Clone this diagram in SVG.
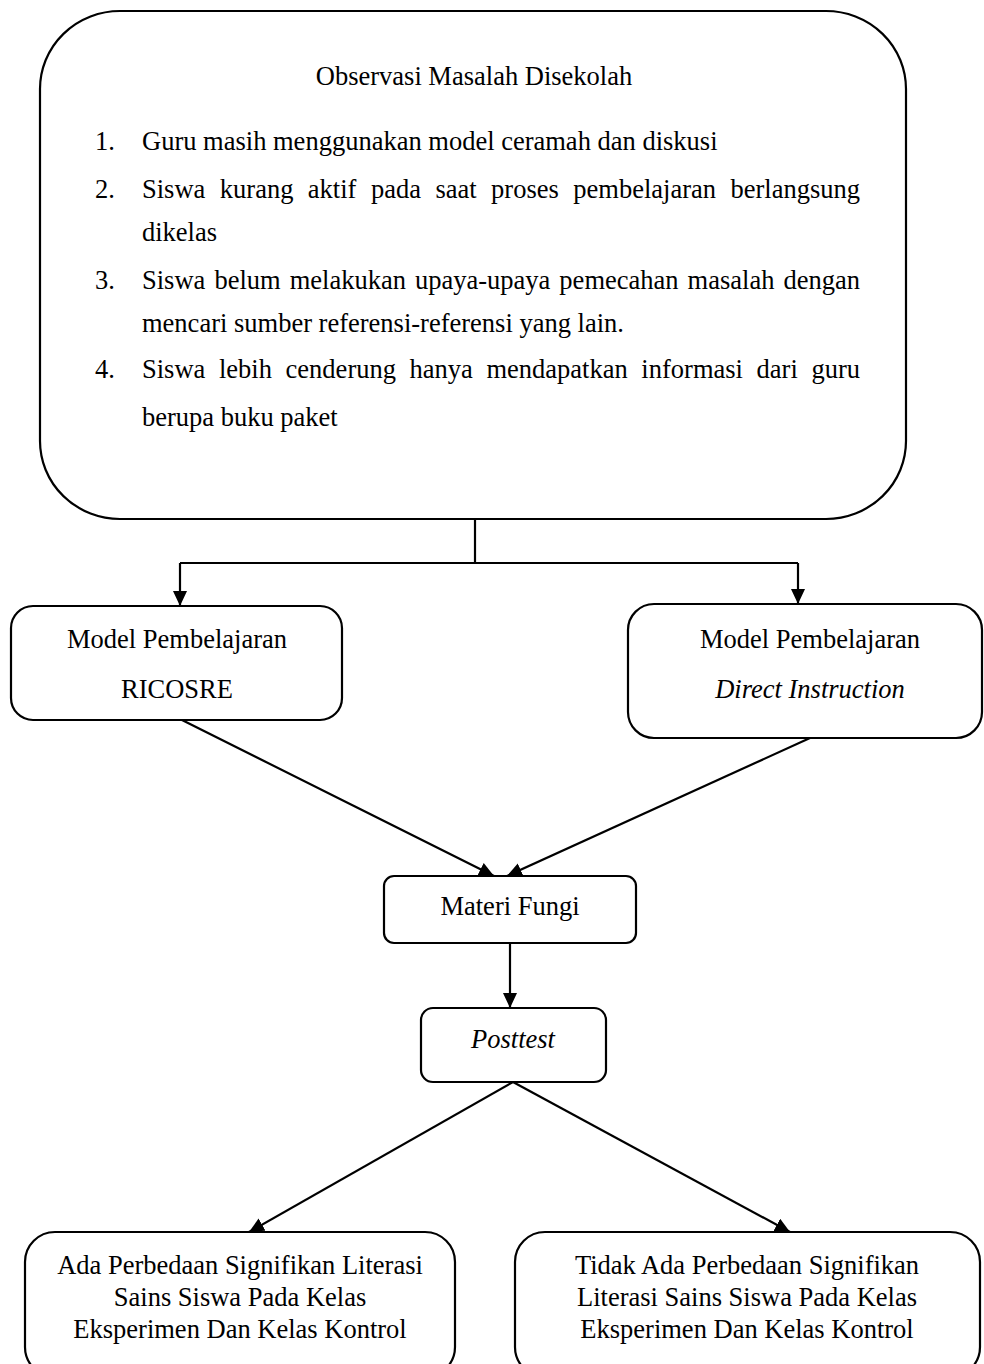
<svg xmlns="http://www.w3.org/2000/svg" width="984" height="1364" viewBox="0 0 984 1364">
<style>
.box{fill:#fff;stroke:#000;stroke-width:2.2}
.t{font-family:"Liberation Serif","Times New Roman",serif;font-size:26.5px;fill:#000}
.c{text-anchor:middle}
.i{font-style:italic}
.ln{stroke:#000;stroke-width:2.2;fill:none}
</style>
<defs>
<marker id="ah" markerUnits="userSpaceOnUse" markerWidth="16" markerHeight="16" refX="15" refY="7" orient="auto">
<path d="M0,0 L15,7 L0,14 z" fill="#000"/>
</marker>
</defs>
<rect width="984" height="1364" fill="#fff"/>
<g id="connectors">
<path class="ln" d="M475,519 V563"/>
<path class="ln" d="M180,563 H798"/>
<path class="ln" d="M180,563 V606" marker-end="url(#ah)"/>
<path class="ln" d="M798,563 V604" marker-end="url(#ah)"/>
<path class="ln" d="M182,720 L494,876" marker-end="url(#ah)"/>
<path class="ln" d="M810,738 L507,876" marker-end="url(#ah)"/>
<path class="ln" d="M510,943 V1008" marker-end="url(#ah)"/>
<path class="ln" d="M513,1082 L249,1232" marker-end="url(#ah)"/>
<path class="ln" d="M513,1082 L790,1232" marker-end="url(#ah)"/>
</g>
<g id="observasi">
<rect class="box" x="40" y="11" width="866" height="508" rx="80" ry="78"/>
<text class="t c" x="474" y="85">Observasi Masalah Disekolah</text>
<text class="t" x="95" y="150">1.</text>
<text class="t" x="142" y="150">Guru masih menggunakan model ceramah dan diskusi</text>
<text class="t" x="95" y="198">2.</text>
<text class="t" x="142" y="198" word-spacing="7.85" textLength="718" lengthAdjust="spacing">Siswa kurang aktif pada saat proses pembelajaran berlangsung</text>
<text class="t" x="142" y="241">dikelas</text>
<text class="t" x="95" y="289">3.</text>
<text class="t" x="142" y="289" word-spacing="2.4" textLength="718" lengthAdjust="spacing">Siswa belum melakukan upaya-upaya pemecahan masalah dengan</text>
<text class="t" x="142" y="332">mencari sumber referensi-referensi yang lain.</text>
<text class="t" x="95" y="378">4.</text>
<text class="t" x="142" y="378" word-spacing="7.0" textLength="718" lengthAdjust="spacing">Siswa lebih cenderung hanya mendapatkan informasi dari guru</text>
<text class="t" x="142" y="426">berupa buku paket</text>
</g>
<g id="ricosre">
<rect class="box" x="11" y="606" width="331" height="114" rx="22" ry="22"/>
<text class="t c" x="177" y="648">Model Pembelajaran</text>
<text class="t c" x="177" y="698">RICOSRE</text>
</g>
<g id="direct">
<rect class="box" x="628" y="604" width="354" height="134" rx="26" ry="26"/>
<text class="t c" x="810" y="648">Model Pembelajaran</text>
<text class="t c i" x="810" y="698">Direct Instruction</text>
</g>
<g id="materi">
<rect class="box" x="384" y="876" width="252" height="67" rx="10" ry="10"/>
<text class="t c" x="510" y="915">Materi Fungi</text>
</g>
<g id="posttest">
<rect class="box" x="421" y="1008" width="185" height="74" rx="12" ry="12"/>
<text class="t c i" x="513" y="1048">Posttest</text>
</g>
<g id="ada">
<rect class="box" x="25" y="1232" width="430" height="145" rx="30" ry="30"/>
<text class="t c" x="240" y="1274">Ada Perbedaan Signifikan Literasi</text>
<text class="t c" x="240" y="1306">Sains Siswa Pada Kelas</text>
<text class="t c" x="240" y="1338">Eksperimen Dan Kelas Kontrol</text>
</g>
<g id="tidak">
<rect class="box" x="515" y="1232" width="465" height="145" rx="30" ry="30"/>
<text class="t c" x="747" y="1274">Tidak Ada Perbedaan Signifikan</text>
<text class="t c" x="747" y="1306">Literasi Sains Siswa Pada Kelas</text>
<text class="t c" x="747" y="1338">Eksperimen Dan Kelas Kontrol</text>
</g>
</svg>
